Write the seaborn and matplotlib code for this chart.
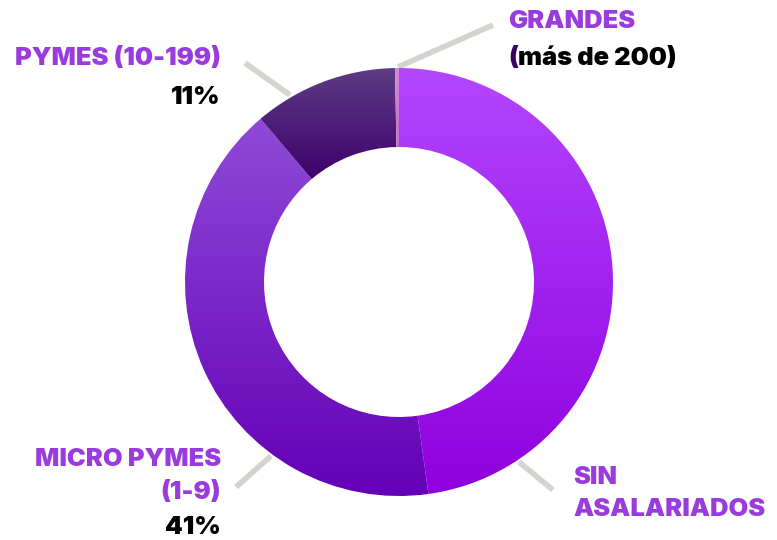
import numpy as np
import matplotlib
matplotlib.use("Agg")
import matplotlib.pyplot as plt
import seaborn as sns
from matplotlib.colors import LinearSegmentedColormap

# --- DATA ---
segments = ["SIN ASALARIADOS", "MICRO PYMES (1-9)", "PYMES (10-199)", "GRANDES (más de 200)"]
shares = [47.8, 41.0, 10.9, 0.3]
grad_top = ["#B446FF", "#8F4AD8", "#5E3D84", "#D08AD2"]
grad_bottom = ["#8E00DE", "#6400B6", "#3D006C", "#C070C4"]

sns.set_theme(style="white")
plt.rcParams['font.family'] = ['Inter', 'DejaVu Sans']

fig = plt.figure(figsize=(7.77, 5.40), dpi=100)
ax = fig.add_axes([0, 0, 1, 1])

cx, cy, R = 399, 540 - 282, 214
wedges, _ = ax.pie(shares, startangle=90, counterclock=False, center=(cx, cy), radius=R,
                   wedgeprops=dict(width=79, linewidth=0), frame=True)

# vertical gradient fill for each slice
for w, c0, c1 in zip(wedges, grad_top, grad_bottom):
    bb = w.get_path().get_extents()
    cmap = LinearSegmentedColormap.from_list("g", [c1, c0])
    grad = np.linspace(0, 1, 256).reshape(-1, 1)
    im = ax.imshow(grad, cmap=cmap, origin="lower", aspect="auto",
                   extent=(bb.x0 - 1, bb.x1 + 1, bb.y0 - 1, bb.y1 + 1), zorder=2)
    im.set_clip_path(w)
    w.set_facecolor("none")
ax.set_xlim(0, 777)
ax.set_ylim(0, 540)
ax.set_aspect("auto")
ax.axis("off")

# leader lines
gray = "#D3D3CF"
leaders = [((519, 462), (553, 490)), ((271, 456), (236, 487)),
           ((290, 95), (245, 63)), ((398, 67), (493, 25))]
for (x0, y0), (x1, y1) in leaders:
    ax.plot([x0, x1], [540 - y0, 540 - y1], color=gray, lw=4, solid_capstyle="butt", zorder=1)

purple = "#9A3BDD"
fs = 18.3
kw = dict(fontsize=fs, fontweight=900, va="center")
ax.text(221, 540 - 58, "PYMES (10-199)", color=purple, ha="right", **kw)
ax.text(221, 540 - 97, "11%", color="black", ha="right", **kw)
ax.text(508, 540 - 22, "GRANDES", color=purple, ha="left", **kw)
paren = ax.text(508, 540 - 58, "(", color="#3A0062", ha="left", **kw)
fig.canvas.draw()
pw = paren.get_window_extent().width
ax.text(508 + pw, 540 - 58, "más de 200)", color="black", ha="left", **kw)
ax.text(221, 540 - 460, "MICRO PYMES", color=purple, ha="right", **kw)
ax.text(221, 540 - 492, "(1-9)", color=purple, ha="right", **kw)
ax.text(221, 540 - 527, "41%", color="black", ha="right", **kw)
ax.text(573, 540 - 478, "SIN", color=purple, ha="left", **kw)
ax.text(573, 540 - 510, "ASALARIADOS", color=purple, ha="left", **kw)

fig.savefig("out.png", dpi=100, facecolor="white")
